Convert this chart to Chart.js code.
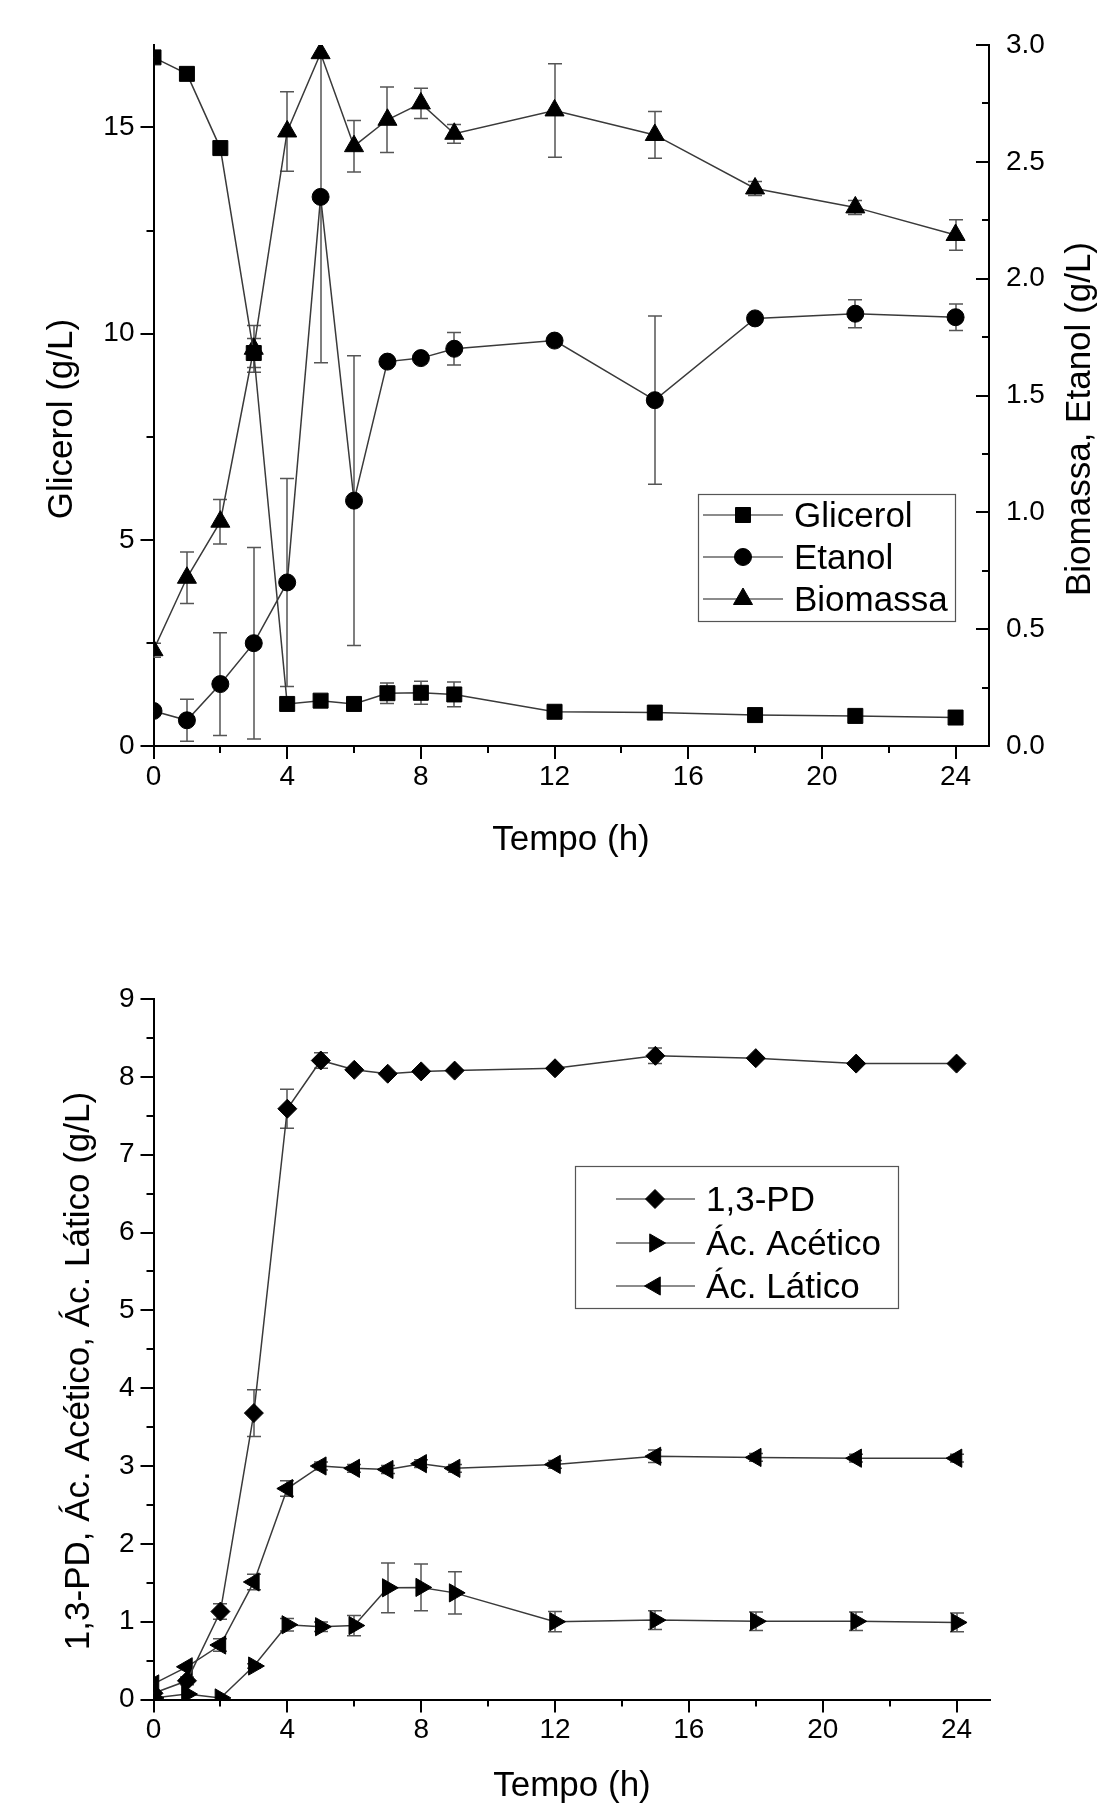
<!DOCTYPE html>
<html>
<head>
<meta charset="utf-8">
<script src="https://cdn.jsdelivr.net/npm/chart.js"></script>
<style>
  html, body { margin: 0; padding: 0; background: #fff; }
  #wrap { position: relative; width: 1111px; height: 1812px; }
  canvas { position: absolute; left: 0; }
  #topChart { top: 0; }
  #bottomChart { top: 906px; }
</style>
</head>
<body>
<div id="wrap">
  <canvas id="topChart" width="1111" height="906"></canvas>
  <canvas id="bottomChart" width="1111" height="906"></canvas>
</div>
<script>
// Sampling times (h)
const tempo = [0, 1, 2, 3, 4, 5, 6, 7, 8, 9, 12, 15, 18, 21, 24];
const tempoTicks = [0, 4, 8, 12, 16, 20, 24];

// Top chart - glicerol on the left axis, etanol and biomassa on the right axis
const glicerol    = [16.7, 16.3, 14.5, 9.53, 1.02, 1.10, 1.02, 1.28, 1.29, 1.25, 0.83, 0.81, 0.75, 0.73, 0.69];
const glicerolErr = [0, 0, 0, 0.35, 0, 0, 0, 0.25, 0.28, 0.30, 0, 0, 0, 0, 0];
const etanol      = [0.15, 0.11, 0.265, 0.44, 0.70, 2.35, 1.05, 1.645, 1.66, 1.70, 1.735, 1.48, 1.83, 1.85, 1.835];
const etanolErr   = [0, 0.09, 0.22, 0.41, 0.445, 0.71, 0.62, 0, 0, 0.07, 0, 0.36, 0, 0.06, 0.057];
const biomassa    = [0.41, 0.72, 0.96, 1.70, 2.63, 2.965, 2.567, 2.68, 2.75, 2.62, 2.72, 2.615, 2.386, 2.305, 2.187];
const biomassaErr = [0.03, 0.11, 0.095, 0.10, 0.17, 0, 0.11, 0.14, 0.065, 0.04, 0.20, 0.10, 0.03, 0.03, 0.065];
const glicerolTicks = [0, 5, 10, 15];
const biomassaTicks = [0, 0.5, 1.0, 1.5, 2.0, 2.5, 3.0];

// Bottom chart - 1,3-PD and acids
const pd          = [0.08, 0.24, 1.13, 3.68, 7.59, 8.21, 8.09, 8.04, 8.07, 8.08, 8.11, 8.27, 8.24, 8.17, 8.17];
const pdErr       = [0, 0.05, 0.10, 0.30, 0.25, 0.10, 0, 0, 0, 0, 0, 0.10, 0, 0, 0];
const acetico     = [0.02, 0.07, 0.02, 0.43, 0.96, 0.935, 0.95, 1.435, 1.44, 1.37, 1.0, 1.02, 1.005, 1.005, 0.99];
const aceticoErr  = [0, 0, 0, 0.03, 0.08, 0.06, 0.13, 0.32, 0.30, 0.27, 0.13, 0.12, 0.12, 0.12, 0.12];
const latico      = [0.20, 0.42, 0.70, 1.51, 2.71, 3.0, 2.97, 2.955, 3.03, 2.97, 3.02, 3.125, 3.11, 3.10, 3.10];
const laticoErr   = [0, 0, 0.08, 0.10, 0.10, 0.05, 0.05, 0.05, 0.05, 0.05, 0.05, 0.08, 0.05, 0.05, 0.05];
const acidTicks = [0, 1, 2, 3, 4, 5, 6, 7, 8, 9];

const FONT = "'Liberation Sans', Arial, sans-serif";
const LINE_COLOR = '#3a3a3a';

function series(label, values, errors, style, rotation, radius, axis) {
    return {
        label: label,
        data: tempo.map((t, i) => ({ x: t, y: values[i] })),
        errors: errors,
        yAxisID: axis,
        borderColor: LINE_COLOR,
        borderWidth: 1.5,
        pointStyle: style,
        pointRotation: rotation,
        pointRadius: radius,
        pointHoverRadius: radius,
        pointBackgroundColor: '#000',
        pointBorderColor: '#000',
        pointBorderWidth: 1,
        tension: 0,
        fill: false,
        clip: 0
    };
}

function fixedTicks(values) {
    return function (scale) { scale.ticks = values.map(v => ({ value: v })); };
}

function axisX(height) {
    return {
        type: 'linear', position: 'bottom', min: 0, max: 25,
        afterBuildTicks: fixedTicks(tempoTicks),
        afterFit: s => { s.height = height; },
        ticks: { autoSkip: false, maxRotation: 0, padding: 14, color: '#000', font: { family: FONT, size: 28 } },
        grid: { display: true, drawOnChartArea: false, drawTicks: false },
        border: { display: true, color: '#000', width: 2 }
    };
}

function axisY(position, min, max, values, width, padding, fmt) {
    return {
        type: 'linear', position: position, min: min, max: max,
        afterBuildTicks: fixedTicks(values),
        afterFit: s => { s.width = width; },
        ticks: { padding: padding, color: '#000', font: { family: FONT, size: 28 }, callback: fmt },
        grid: { display: true, drawOnChartArea: false, drawTicks: false },
        border: { display: true, color: '#000', width: 2 }
    };
}

// Error bars drawn under the lines and markers
const errorBars = {
    id: 'errorBars',
    beforeDatasetsDraw(chart) {
        const ctx = chart.ctx, area = chart.chartArea;
        ctx.save();
        ctx.beginPath();
        ctx.rect(area.left, area.top, area.right - area.left, area.bottom - area.top);
        ctx.clip();
        ctx.strokeStyle = '#555';
        ctx.lineWidth = 1.5;
        chart.data.datasets.forEach(ds => {
            if (!ds.errors) return;
            const xs = chart.scales.x, ys = chart.scales[ds.yAxisID];
            ds.data.forEach((p, i) => {
                const e = ds.errors[i];
                if (!e) return;
                const px = Math.round(xs.getPixelForValue(p.x));
                const top = ys.getPixelForValue(p.y + e);
                const bot = ys.getPixelForValue(p.y - e);
                ctx.beginPath();
                ctx.moveTo(px, top); ctx.lineTo(px, bot);
                ctx.moveTo(px - 7, top); ctx.lineTo(px + 7, top);
                ctx.moveTo(px - 7, bot); ctx.lineTo(px + 7, bot);
                ctx.stroke();
            });
        });
        ctx.restore();
    }
};

// Major and minor tick marks (Origin style)
function makeTickMarks(axes) {
    return {
        id: 'tickMarks',
        afterDraw(chart) {
            const ctx = chart.ctx;
            ctx.save();
            ctx.strokeStyle = '#000';
            ctx.lineWidth = 2;
            axes.forEach(a => {
                const s = chart.scales[a.id];
                const minor = [];
                for (let i = 0; i + 1 < a.values.length; i++) minor.push((a.values[i] + a.values[i + 1]) / 2);
                const mark = (v, len) => {
                    const p = Math.round(s.getPixelForValue(v));
                    ctx.beginPath();
                    if (a.side === 'bottom') { ctx.moveTo(p, s.top); ctx.lineTo(p, s.top + len); }
                    else if (a.side === 'left') { ctx.moveTo(s.right, p); ctx.lineTo(s.right - len, p); }
                    else { ctx.moveTo(s.left, p); ctx.lineTo(s.left - len, p); }
                    ctx.stroke();
                };
                a.values.forEach(v => mark(v, 13));
                minor.forEach(v => mark(v, 7));
            });
            ctx.restore();
        }
    };
}

// Axis titles
function makeTitles(titles) {
    return {
        id: 'axisTitles',
        afterDraw(chart) {
            const ctx = chart.ctx;
            ctx.save();
            ctx.fillStyle = '#000';
            ctx.font = '35px ' + FONT;
            ctx.textBaseline = 'alphabetic';
            ctx.textAlign = 'center';
            titles.forEach(t => {
                ctx.save();
                ctx.translate(t.x, t.y);
                if (t.vertical) ctx.rotate(-Math.PI / 2);
                ctx.fillText(t.text, 0, 0);
                ctx.restore();
            });
            ctx.restore();
        }
    };
}

function drawMarker(ctx, style, rotation, radius, x, y) {
    if (Chart.helpers && Chart.helpers.drawPoint) {
        Chart.helpers.drawPoint(ctx, { pointStyle: style, rotation: rotation, radius: radius, borderWidth: 1 }, x, y);
        return;
    }
    ctx.beginPath();
    ctx.arc(x, y, radius, 0, Math.PI * 2);
    ctx.fill();
}

// Boxed legend inside the plot
function makeLegend(cfg) {
    return {
        id: 'boxLegend',
        afterDraw(chart) {
            const ctx = chart.ctx;
            const ds = chart.data.datasets;
            ctx.save();
            ctx.strokeStyle = '#555';
            ctx.lineWidth = 1.2;
            ctx.strokeRect(cfg.x + 0.5, cfg.y + 0.5, cfg.w, cfg.h);
            ds.forEach((d, i) => {
                const y = cfg.rows[i];
                ctx.strokeStyle = '#666';
                ctx.lineWidth = 1.5;
                ctx.beginPath();
                ctx.moveTo(cfg.lineX1, y); ctx.lineTo(cfg.lineX2, y);
                ctx.stroke();
                ctx.fillStyle = '#000';
                ctx.strokeStyle = '#000';
                ctx.lineWidth = 1;
                drawMarker(ctx, d.pointStyle, d.pointRotation, d.pointRadius, cfg.markX, y);
                ctx.font = '35px ' + FONT;
                ctx.textAlign = 'left';
                ctx.textBaseline = 'alphabetic';
                ctx.fillText(d.label, cfg.textX, y + 12);
            });
            ctx.restore();
        }
    };
}

new Chart(document.getElementById('topChart').getContext('2d'), {
    type: 'line',
    data: {
        datasets: [
            series('Glicerol', glicerol, glicerolErr, 'rect', 0, 10.6, 'y'),
            series('Etanol', etanol, etanolErr, 'circle', 0, 8.5, 'y1'),
            series('Biomassa', biomassa, biomassaErr, 'triangle', 0, 11, 'y1')
        ]
    },
    options: {
        responsive: false,
        animation: false,
        devicePixelRatio: 1,
        layout: { padding: { top: 45, left: 0, right: 0, bottom: 0 } },
        scales: {
            x: axisX(906 - 746),
            y: axisY('left', 0, 17, glicerolTicks, 153.5, 19),
            y1: axisY('right', 0, 3, biomassaTicks, 1111 - 989, 17, v => v.toFixed(1))
        },
        plugins: { legend: { display: false }, tooltip: { enabled: false } }
    },
    plugins: [
        errorBars,
        makeTickMarks([
            { id: 'x', side: 'bottom', values: tempoTicks },
            { id: 'y', side: 'left', values: glicerolTicks },
            { id: 'y1', side: 'right', values: biomassaTicks }
        ]),
        makeTitles([
            { text: 'Tempo (h)', x: 571, y: 850 },
            { text: 'Glicerol (g/L)', x: 72, y: 419, vertical: true },
            { text: 'Biomassa, Etanol (g/L)', x: 1090, y: 419, vertical: true }
        ]),
        makeLegend({ x: 698, y: 494, w: 257, h: 127, rows: [515, 557, 599], lineX1: 703, lineX2: 783, markX: 743, textX: 794 })
    ]
});

new Chart(document.getElementById('bottomChart').getContext('2d'), {
    type: 'line',
    data: {
        datasets: [
            series('1,3-PD', pd, pdErr, 'rectRot', 0, 9.5, 'y'),
            series('Ác. Acético', acetico, aceticoErr, 'triangle', 90, 10.5, 'y'),
            series('Ác. Lático', latico, laticoErr, 'triangle', -90, 10.5, 'y')
        ]
    },
    options: {
        responsive: false,
        animation: false,
        devicePixelRatio: 1,
        layout: { padding: { top: 93, left: 0, right: 121, bottom: 0 } },
        scales: {
            x: axisX(906 - 793.5),
            y: axisY('left', 0, 9, acidTicks, 153.5, 19)
        },
        plugins: { legend: { display: false }, tooltip: { enabled: false } }
    },
    plugins: [
        errorBars,
        makeTickMarks([
            { id: 'x', side: 'bottom', values: tempoTicks },
            { id: 'y', side: 'left', values: acidTicks }
        ]),
        makeTitles([
            { text: 'Tempo (h)', x: 572, y: 890 },
            { text: '1,3-PD, Ác. Acético, Ác. Lático (g/L)', x: 89, y: 465, vertical: true }
        ]),
        makeLegend({ x: 575, y: 260, w: 323, h: 142, rows: [293, 337, 380], lineX1: 616, lineX2: 695, markX: 655, textX: 706 })
    ]
});
</script>
</body>
</html>
